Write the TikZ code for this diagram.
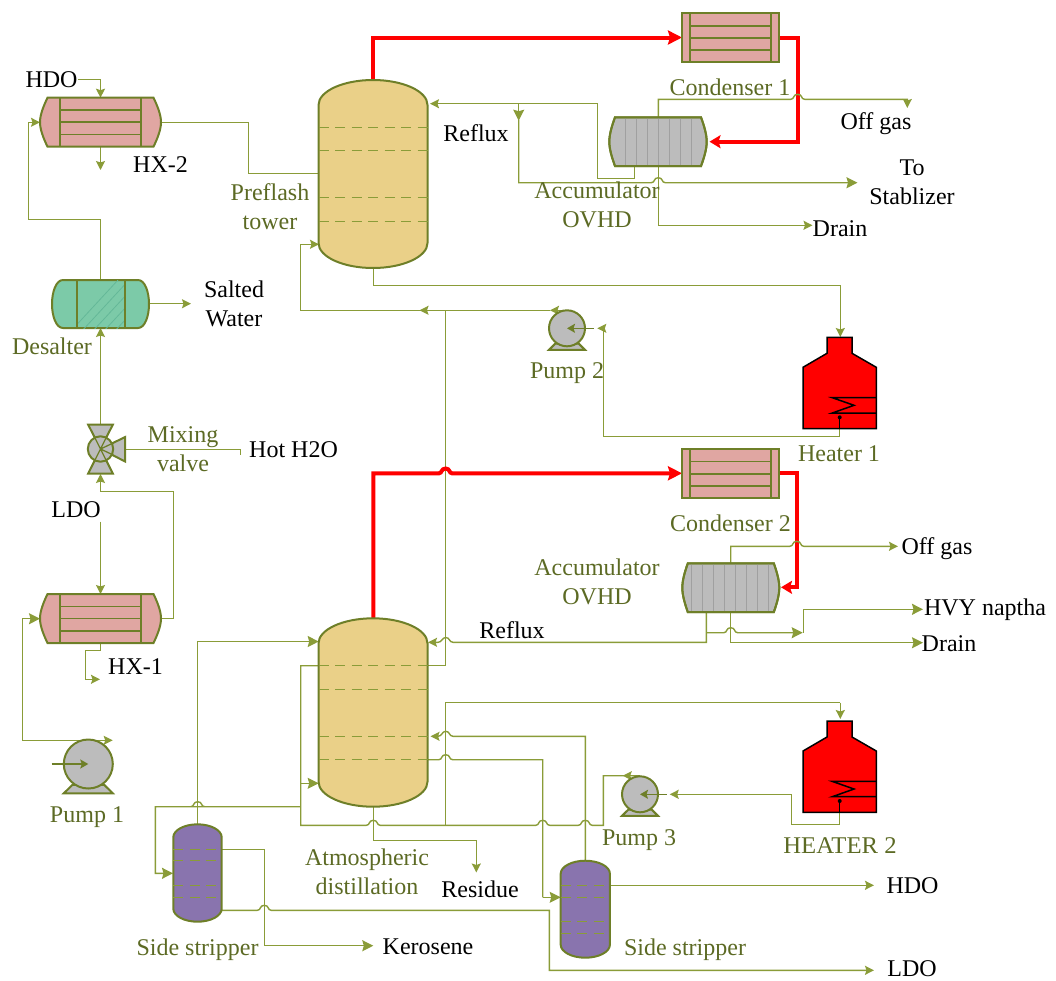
\documentclass[tikz,border=0pt]{standalone}
\usepackage{fontspec}
\setmainfont{Liberation Serif}
\usetikzlibrary{arrows.meta,shapes.geometric}
\definecolor{pipec}{HTML}{8A9C38}
\definecolor{edgec}{HTML}{6E7F28}
\definecolor{labc}{HTML}{5C6A24}
\definecolor{hxfill}{HTML}{E0A6A2}
\definecolor{towerfill}{HTML}{EAD088}
\definecolor{desfill}{HTML}{7CCAA8}
\definecolor{desline}{HTML}{64B898}
\definecolor{greyfill}{HTML}{BCBCBC}
\definecolor{greyline}{HTML}{A0A0A0}
\definecolor{purplefill}{HTML}{8974AE}
\tikzset{
  pipe/.style={draw=pipec,line width=1.4pt,line join=miter},
  redpipe/.style={draw=red,line width=4pt},
  tipS/.style={-{Stealth[length=9pt,width=9pt,inset=1.5pt,fill=pipec,color=pipec]}},
  tipL/.style={-{Stealth[length=11pt,width=11pt,inset=1.5pt,fill=pipec,color=pipec]}},
  tipRed/.style={-{Stealth[length=14pt,width=14pt,inset=2pt,fill=red,color=red]}},
  tipRedS/.style={-{Stealth[length=11pt,width=13pt,inset=2pt,fill=red,color=red]}},
  equip/.style={draw=edgec,line width=2pt},
  tray/.style={draw=pipec,line width=1.5pt,dash pattern=on 10pt off 6.5pt},
  txt/.style={font=\fontsize{24}{29}\selectfont,inner sep=0pt,anchor=base,text=black},
  olv/.style={txt,text=labc},
  txtm/.style={font=\fontsize{24}{29}\selectfont,inner sep=0pt,anchor=center,align=center,text=black},
  olvm/.style={txtm,text=labc},
}
% horizontal hump over a vertical line at x=#1
\newcommand\hump[2]{-- ({#1-7},#2) .. controls ({#1-3},#2) and ({#1-5},{#2-5}) .. (#1,{#2-5}) .. controls ({#1+5},{#2-5}) and ({#1+3},#2) .. ({#1+7},#2)}
% vessel outline with bulged ends: cx cy half-w inner half-h
\newcommand\vesselpath[5]{({#1-#4},{#2-#5}) -- ({#1+#4},{#2-#5}) .. controls ({#1+#4+.55*(#3-#4)},{#2-.65*#5}) and ({#1+#3},{#2-.3*#5}) .. ({#1+#3},#2) .. controls ({#1+#3},{#2+.3*#5}) and ({#1+#4+.55*(#3-#4)},{#2+.65*#5}) .. ({#1+#4},{#2+#5}) -- ({#1-#4},{#2+#5}) .. controls ({#1-#4-.55*(#3-#4)},{#2+.65*#5}) and ({#1-#3},{#2+.3*#5}) .. ({#1-#3},#2) .. controls ({#1-#3},{#2-.3*#5}) and ({#1-#4-.55*(#3-#4)},{#2-.65*#5}) .. cycle}
% heat exchanger with domed ends: name cx cy
\newcommand\hxshell[3]{
  \path[equip,fill=hxfill] \vesselpath{#2}{#3}{60.5}{53}{24.5};
  \foreach \dy in {-12,0,12.3}{\draw[equip,line width=1.6pt] ({#2-40.2},{#3+\dy}) -- ({#2+40.8},{#3+\dy});}
  \foreach \dx in {-40.2,40.8}{\draw[equip] ({#2+\dx},{#3-24.5}) -- ({#2+\dx},{#3+24.5});}
  \node[inner sep=0pt,minimum width=121pt,minimum height=49pt] (#1) at (#2,#3) {};
}
% condenser: name cx cy
\newcommand\condenser[3]{
  \path[equip,fill=hxfill] ({#2-48.7},{#3-24.4}) rectangle ({#2+48.7},{#3+24.4});
  \foreach \dy in {-12,0.3,12.3}{\draw[equip,line width=1.6pt] ({#2-40.3},{#3+\dy}) -- ({#2+40.3},{#3+\dy});}
  \foreach \dx in {-40.3,40.5}{\draw[equip] ({#2+\dx},{#3-24.4}) -- ({#2+\dx},{#3+24.4});}
  \node[inner sep=0pt,minimum width=97.4pt,minimum height=48.8pt] (#1) at (#2,#3) {};
}
% tower/stripper: name cx top bottom half-w head-h fill tray-ys
\newcommand\tower[8]{
  \path[equip,fill=#7] ({#2-#5},{#3+#6}) .. controls ({#2-#5},{#3+.45*#6}) and ({#2-.55*#5},#3) .. (#2,#3)
    .. controls ({#2+.55*#5},#3) and ({#2+#5},{#3+.45*#6}) .. ({#2+#5},{#3+#6})
    -- ({#2+#5},{#4-#6}) .. controls ({#2+#5},{#4-.45*#6}) and ({#2+.55*#5},#4) .. (#2,#4)
    .. controls ({#2-.55*#5},#4) and ({#2-#5},{#4-.45*#6}) .. ({#2-#5},{#4-#6}) -- cycle;
  \foreach \ty in {#8}{\draw[tray] ({#2-#5},\ty) -- ({#2+#5},\ty);}
  \node[inner sep=0pt,minimum width={2*#5*1pt},minimum height={(#4-#3)*1pt}] (#1) at (#2,{(#3+#4)/2}) {};
}
% pump: name cx cy radius inlet-tail-x
\newcommand\pumpshape[5]{
  \pgfmathsetmacro\rr{#4}
  \path[equip,fill=greyfill] ({#2-\rr},{#3+1.197*\rr}) -- ({#2-.65*\rr},{#3+.85*\rr}) -- ({#2+.65*\rr},{#3+.85*\rr}) -- ({#2+\rr},{#3+1.197*\rr}) -- cycle;
  \node[circle,equip,fill=greyfill,inner sep=0pt,minimum size={2*\rr*1pt}] (#1) at (#2,#3) {};
  \draw[draw=edgec,line width=1.6pt,-{Stealth[length=8pt,width=9pt,inset=1.5pt,fill=edgec,color=edgec]}] (#5,#3) -- (#2,#3);
}
% fired heater: name dy-offset
\newcommand\heater[2]{
  \begin{scope}[shift={(0,#2)}]
  \path[draw=black,line width=1.5pt,fill=red] (827,337.3) -- (852,337.3) -- (852,353.3) -- (876.3,367.3) -- (876.3,428.7) -- (803,428.7) -- (803,367.3) -- (827,353.3) -- cycle;
  \draw[black,line width=1.5pt] (876.3,397.7) -- (832.3,397.7) -- (854,405.3) -- (832.3,413) -- (876.3,413);
  \draw[black,line width=1.3pt] (839.7,417.3) -- (839.7,428.7);
  \fill[black] (839.7,417.3) circle[radius=2];
  \node[inner sep=0pt,minimum width=73.3pt,minimum height=91.4pt] (#1) at (839.7,383) {};
  \end{scope}
}
\begin{document}
\begin{tikzpicture}[x=1pt,y=-1pt]
\useasboundingbox (0,0) rectangle (1056,980);

% ---------- pipes (drawn first) ----------
\coordinate (preTop) at (373.3,80);
\coordinate (preBot) at (373.3,268);
\coordinate (atmTop) at (373.3,618.3);
\coordinate (atmBot) at (373.3,806.7);
\coordinate (hxTwoTop) at (100.5,97.7);
\coordinate (hxTwoBot) at (100.5,146.7);
\coordinate (hxTwoL) at (40,122.3);
\coordinate (hxTwoR) at (161,122.3);
\coordinate (hxOneTop) at (100.5,594);
\coordinate (hxOneBot) at (100.5,643);
\coordinate (hxOneL) at (40,618.7);
\coordinate (hxOneR) at (161,618.7);
\coordinate (hdoIn) at (78,79.3);
\coordinate (hxTwoDrain) at (100.5,170);
\coordinate (saltOut) at (191,303.7);
\coordinate (hotIn) at (240.3,455);
\coordinate (ldoIn) at (100.5,521.7);
\coordinate (hxOneDrain) at (100,679.3);
\coordinate (stabOut) at (857.5,182.7);
\coordinate (drainOne) at (812.5,225.3);
\coordinate (offOne) at (907.3,108);
\coordinate (offTwo) at (898,546.3);
\coordinate (hvyOut) at (923,609.3);
\coordinate (drainTwo) at (923,642.7);
\coordinate (resOut) at (476.3,872.5);
\coordinate (hdoOut) at (874,885.3);
\coordinate (ldoOut) at (874,970.3);
\coordinate (keroOut) at (373.3,945.7);

\draw[pipe,tipS] (hdoIn) -- (100.5,79.3) -- (hxTwoTop);
\draw[pipe,tipS] (hxTwoBot) -- (hxTwoDrain);
\draw[pipe] (hxTwoR) -- (248.7,122.3) -- (248.7,173.7) -- (319,173.7);
\draw[pipe,tipS] (100.5,280) -- (100.5,219.3) -- (28.3,219.3) -- (28.3,122.3) -- (hxTwoL);
\draw[pipe,tipS] (149,303.7) -- (saltOut);
\draw[pipe,tipS] (100.5,425) -- (100.5,328);
\draw[pipe] (125.3,449.3) -- (240.3,449.3) -- (hotIn);
\draw[pipe,tipS] (hxOneR) -- (173.3,618.7) -- (173.3,491.7) -- (100.5,491.7) -- (100.5,474);
\draw[pipe,tipS] (ldoIn) -- (hxOneTop);
\draw[pipe,tipS] (hxOneBot) -- (100.5,650.7) -- (85.3,650.7) -- (85.3,679.3) -- (hxOneDrain);
\draw[pipe,tipS] (88,740.3) -- (112.7,740.3);
\draw[pipe,tipL] (88,740.3) -- (22.3,740.3) -- (22.3,618.7) -- (hxOneL);

% overhead, top section
\draw[redpipe,tipRed] (preTop) -- (373.3,37.5) -- (682,37.5);
\draw[redpipe,tipRedS] (779,37.5) -- (797.7,37.5) -- (797.7,141.7) -- (709.5,141.7);
\draw[pipe,tipS] (658.3,117.3) -- (658.3,99.3) \hump{797.7}{99.3} -- (907.3,99.3) -- (offOne);
\draw[pipe,tipS] (634.3,166) -- (634.3,178.3) -- (597.7,178.3) -- (597.7,103.7) -- (430,103.7);
\draw[pipe,tipL] (518.7,103.7) -- (518.7,120.7);
\draw[pipe,tipL] (518.7,120) -- (518.7,182.7) \hump{658.3}{182.7} -- (stabOut);
\draw[pipe,tipS] (658.3,166) -- (658.3,225.3) -- (drainOne);
\draw[pipe,tipS] (preBot) -- (373.3,285.7) -- (840.3,285.7) -- (840.3,337);
\draw[pipe,tipS] (839.7,428) -- (839.7,436.7) -- (603.3,436.7) -- (603.3,328.3) -- (597.3,328.3);
\draw[pipe,tipS] (567,310.3) -- (550,310.3);
\draw[pipe,tipS] (550,310.3) -- (419.5,310.3);
\draw[pipe,tipS] (425,310.3) -- (300.7,310.3) -- (300.7,244.3) -- (319,244.3);
\draw[pipe] (445.7,310.3) -- (445.7,665.7) -- (428,665.7);

% atmospheric tower
\draw[redpipe,tipRed] (atmTop) -- (373.3,473.3) -- (439,473.3) .. controls (442,473.3) and (441,468.5) .. (445.7,468.5) .. controls (450,468.5) and (449,473.3) .. (452,473.3) -- (682,473.3);
\draw[redpipe,tipRedS] (779,473.3) -- (796.8,473.3) -- (796.8,587.3) -- (781,587.3);
\draw[pipe,tipS] (730.7,563.3) -- (730.7,546.3) \hump{796.8}{546.3} -- (offTwo);
\draw[pipe,tipS] (706.3,612) -- (706.3,642.3) -- (453,642.3) .. controls (449,642.3) and (450,637.5) .. (445.7,637.5) .. controls (442,637.5) and (442,642.3) .. (438,642.3) -- (428,642.3);
\draw[pipe,tipL] (706.3,632.7) \hump{730.7}{632.7} -- (802.7,632.7);
\draw[pipe,tipL] (803.3,632.7) -- (803.3,609.3) -- (hvyOut);
\draw[pipe,tipL] (730.7,612) -- (730.7,642.7) -- (drainTwo);
\draw[pipe] (318.7,665.7) -- (300.7,665.7) -- (300.7,825.3) \hump{373.3}{825.3} \hump{542.7}{825.3} \hump{585.3}{825.3} -- (603.3,825.3) -- (603.3,775.7) -- (640,775.7);
\draw[pipe,tipS] (640,775.7) -- (622.7,775.7);
\draw[pipe,tipL] (300.7,783.3) -- (318.7,783.3);
\draw[pipe] (445.7,825.3) -- (445.7,702.7) -- (840.3,702.7);
\draw[pipe,tipS] (840.3,702.7) -- (840.3,719);
\draw[pipe,tipL] (300.7,806.7) \hump{197.7}{806.7} -- (155.3,806.7) -- (155.3,873.3) -- (173,873.3);
\draw[pipe,tipL] (197.5,824.3) -- (197.5,641.5) -- (318.7,641.5);
\draw[pipe,tipS] (atmBot) -- (373.3,840.3) -- (476.3,840.3) -- (resOut);
\draw[pipe] (428,759.7) \hump{445.7}{759.7} -- (542.7,759.7) -- (542.7,897.3);
\draw[pipe,tipL] (542.7,897.3) -- (560.7,897.3);
\draw[pipe,tipS] (585.3,860.7) -- (585.3,736.3) -- (453,736.3) .. controls (449,736.3) and (450,731.3) .. (445.7,731.3) .. controls (442,731.3) and (442,736.3) .. (438,736.3) -- (430.5,736.3);
\draw[pipe,tipS] (610,885.3) -- (hdoOut);
\draw[pipe,tipS] (221.7,910.3) \hump{264.3}{910.3} -- (549.3,910.3) -- (549.3,970.3) -- (ldoOut);
\draw[pipe,tipL] (221.7,849.3) -- (264.3,849.3) -- (264.3,945.7) -- (keroOut);
\draw[pipe,tipS] (839.7,812) -- (839.7,824.3) -- (791.3,824.3) -- (791.3,794.3) -- (669.7,794.3);

% ---------- equipment ----------
\hxshell{hxTwo}{100.5}{122.2}
\hxshell{hxOne}{100.5}{618.5}
\condenser{condOne}{730.6}{37.7}
\condenser{condTwo}{730.5}{473.4}

% desalter
\path[equip,fill=desfill] (63,280) -- (138,280) .. controls (145,280) and (149,292) .. (149,304) .. controls (149,316) and (145,328) .. (138,328) -- (63,328) .. controls (56,328) and (52,316) .. (52,304) .. controls (52,292) and (56,280) .. (63,280) -- cycle;
\begin{scope}
\clip (76.7,280) rectangle (125,328);
\foreach \k in {0,1,...,7}{\draw[desline,line width=.8pt] ({70+\k*11},332) -- ({70+\k*11+48},280);}
\end{scope}
\draw[equip] (76.7,280) -- (76.7,328) (125,280) -- (125,328);
\node[inner sep=0pt,minimum width=97pt,minimum height=48pt] (desalter) at (100.5,304) {};

% towers
\tower{preflash}{373}{80}{268}{54.5}{25}{towerfill}{127.3,150.7,197.7,221.3}
\tower{atm}{373}{618.3}{806.7}{54.5}{25}{towerfill}{665.7,689.3,736.3,759.7}
\tower{stripA}{197.5}{824.3}{921.7}{24.2}{13}{purplefill}{849.3,860.7,885.3,897.3}
\tower{stripB}{585.3}{860.7}{957.7}{24.6}{13}{purplefill}{885.3,897.3,921.3,933.7}

% accumulators
\path[equip,fill=greyfill] \vesselpath{658}{141.7}{48.7}{43}{24.4};
\foreach \gx in {625.3,636.7,647.7,658.3,669.3,680.7,691.7}{\draw[greyline,line width=1.5pt] (\gx,118.3) -- (\gx,165);}
\path[equip] \vesselpath{658}{141.7}{48.7}{43}{24.4};
\node[inner sep=0pt,minimum width=97.4pt,minimum height=48.8pt] (accOne) at (658,141.7) {};
\path[equip,fill=greyfill] \vesselpath{730.8}{587.7}{48.5}{43}{24.4};
\foreach \gx in {691.3,702.3,713.3,724.3,735.7,746.3,757.3,768.3}{\draw[greyline,line width=1.5pt] (\gx,564.3) -- (\gx,611);}
\path[equip] \vesselpath{730.8}{587.7}{48.5}{43}{24.4};
\node[inner sep=0pt,minimum width=97pt,minimum height=48.8pt] (accTwo) at (730.8,587.7) {};

% pumps
\pumpshape{pumpOne}{88.3}{764}{24.5}{51.7}
\pumpshape{pumpTwo}{567}{328.3}{18}{594}
\pumpshape{pumpThree}{640}{794.3}{18}{666.7}

% heaters
\heater{heaterOne}{0}
\heater{heaterTwo}{383.7}

% mixing valve
\path[equip,fill=greyfill,line join=miter] (88.2,424.7) -- (112.8,424.7) -- (100.5,449) -- (88.2,473.5) -- (112.8,473.5) -- (100.5,449) -- cycle;
\path[equip,fill=greyfill] (100.5,449) -- (125.2,437) -- (125.2,461.5) -- cycle;
\node[circle,equip,fill=greyfill,inner sep=0pt,minimum size=25.4pt] (valve) at (100.5,449) {};
\draw[equip,line width=1.3pt] (91.5,431) -- (109.5,467) (109.5,431) -- (91.5,467) (100.5,449) -- (113.2,443) (100.5,449) -- (113.2,455);

% ---------- labels ----------
\node[txt] (tHdoA) at (51.5,87) {HDO};
\node[txt] (tHxTwo) at (160.5,172.5) {HX-2};
\node[olvm] (tPreflash) at (270,207) {Preflash\\tower};
\node[olv] (tCondOne) at (730,95) {Condenser 1};
\node[txt] (tOffOne) at (876,129) {Off gas};
\node[txt] (tRefluxOne) at (476,141) {Reflux};
\node[txtm] (tStab) at (912,182) {To\\Stablizer};
\node[olvm] (tAccOne) at (597,204.5) {Accumulator\\OVHD};
\node[txt] (tDrainOne) at (840,236) {Drain};
\node[txtm] (tSalt) at (234,303.5) {Salted\\Water};
\node[olv] (tDesalter) at (52,354) {Desalter};
\node[olvm] (tMixing) at (183,449) {Mixing\\valve};
\node[txt] (tHot) at (293.5,457) {Hot H2O};
\node[txt] (tLdoA) at (76,517) {LDO};
\node[olv] (tPumpTwo) at (567,378) {Pump 2};
\node[olv] (tHeaterOne) at (839,461) {Heater 1};
\node[olv] (tCondTwo) at (730.5,531) {Condenser 2};
\node[olvm] (tAccTwo) at (597,582) {Accumulator\\OVHD};
\node[txt] (tOffTwo) at (937,554) {Off gas};
\node[txt] (tHvy) at (985,615) {HVY naptha};
\node[txt] (tDrainTwo) at (949,651) {Drain};
\node[txt] (tRefluxTwo) at (512,638) {Reflux};
\node[txt] (tHxOne) at (135.5,674) {HX-1};
\node[olv] (tPumpOne) at (87,822) {Pump 1};
\node[olvm] (tAtm) at (367,872) {Atmospheric\\distillation};
\node[txt] (tRes) at (480,897) {Residue};
\node[olv] (tPumpThree) at (639,845) {Pump 3};
\node[olv,xscale=1.03] (tHeaterTwo) at (840,853) {HEATER 2};
\node[olv] (tSideA) at (197.5,955) {Side stripper};
\node[txt] (tKero) at (428,954) {Kerosene};
\node[txt] (tHdoB) at (912.5,893) {HDO};
\node[olv] (tSideB) at (685,955) {Side stripper};
\node[txt] (tLdoB) at (912,976) {LDO};
\end{tikzpicture}
\end{document}
